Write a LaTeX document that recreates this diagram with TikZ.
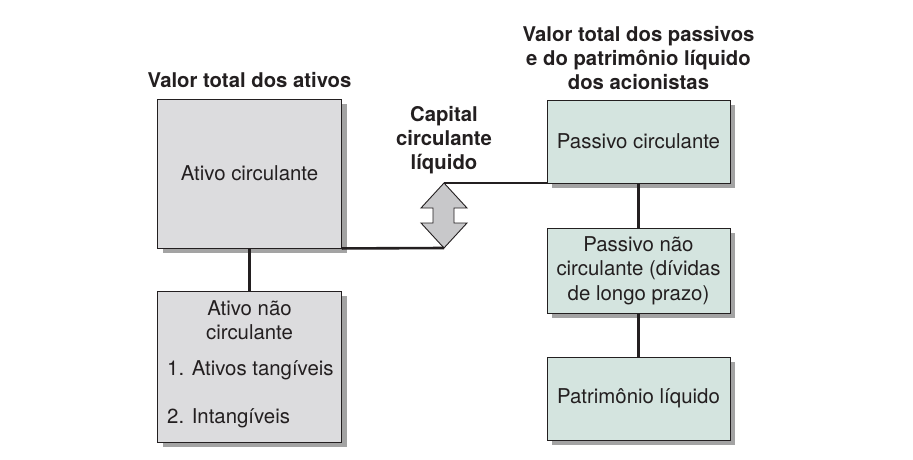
\documentclass[tikz,border=0pt]{standalone}
\usepackage{fontspec}
\setmainfont{TeX Gyre Heros}
\usetikzlibrary{shadows}
\definecolor{ativocor}{HTML}{DCDCDE}
\definecolor{passivocor}{HTML}{D4E4DF}
\definecolor{sombracor}{HTML}{A3A3A3}
\definecolor{setacor}{HTML}{C8C8CA}
\definecolor{textocor}{HTML}{231F20}
\tikzset{
  caixa/.style={draw=textocor,line width=0.9pt,inner sep=0pt,
    drop shadow={shadow xshift=5pt,shadow yshift=-5pt,fill=sombracor,opacity=1},
    font=\fontsize{20.4}{24.5}\selectfont,text=textocor,align=center},
  ativo/.style={caixa,fill=ativocor,minimum width=184pt},
  passivo/.style={caixa,fill=passivocor,minimum width=183pt},
  titulo/.style={font=\fontsize{20.3}{24}\selectfont\bfseries,text=textocor,align=center,inner sep=0pt},
  item/.style={font=\fontsize{20.4}{24}\selectfont,text=textocor,inner sep=0pt},
  ligacao/.style={line width=2.6pt,draw=textocor},
  seta/.style={fill=setacor,draw=textocor,line width=0.9pt,line join=miter}
}
\begin{document}
\begin{tikzpicture}[x=1pt,y=-1pt]
\useasboundingbox (0,0) rectangle (913,460);
% titulos
\node[titulo](tat) at (249.5,80){Valor total dos ativos};
\node[titulo](tcc) at (444,140){Capital\\circulante\\líquido};
\node[titulo](tpa) at (638.5,58){Valor total dos passivos\\e do patrimônio líquido\\dos acionistas};
% ativos
\node[ativo,minimum height=149pt](ac) at (249.5,173.5){Ativo circulante};
\node[ativo,minimum height=151pt](anc) at (249.5,366.5){};
\node[item](anc1) at (249.5,308){Ativo não};
\node[item](anc2) at (249.5,332){circulante};
\node[item,anchor=west](anc3) at (167,370){1. Ativos tangíveis};
\node[item,anchor=west](anc4) at (167,418){2. Intangíveis};
% passivos
\node[passivo,minimum height=83pt](pc) at (638.5,141.5){Passivo circulante};
\node[passivo,minimum height=85pt](pnc) at (638.5,270.5){Passivo não\\circulante (dívidas\\de longo prazo)};
\node[passivo,minimum height=83pt](pl) at (638.5,398.5){Patrimônio líquido};
% capital circulante liquido
\coordinate (ccltop) at (444,183);
\coordinate (cclbot) at (444,248);
\draw[seta] (ccltop) -- ++(23,25) -- ++(-13,0) -- ++(0,15) -- ++(13,0) -- (cclbot)
  -- ++(-23,-25) -- ++(12,0) -- ++(0,-15) -- ++(-12,0) -- cycle;
% ligacoes
\draw[ligacao] (ac.south) -- (anc.north);
\draw[ligacao] (pc.south) -- (pnc.north);
\draw[ligacao] (pnc.south) -- (pl.north);
\draw[ligacao] (ac.south east) -- (cclbot);
\draw[ligacao] (ccltop) -- (ccltop -| pc.west);
\end{tikzpicture}
\end{document}
